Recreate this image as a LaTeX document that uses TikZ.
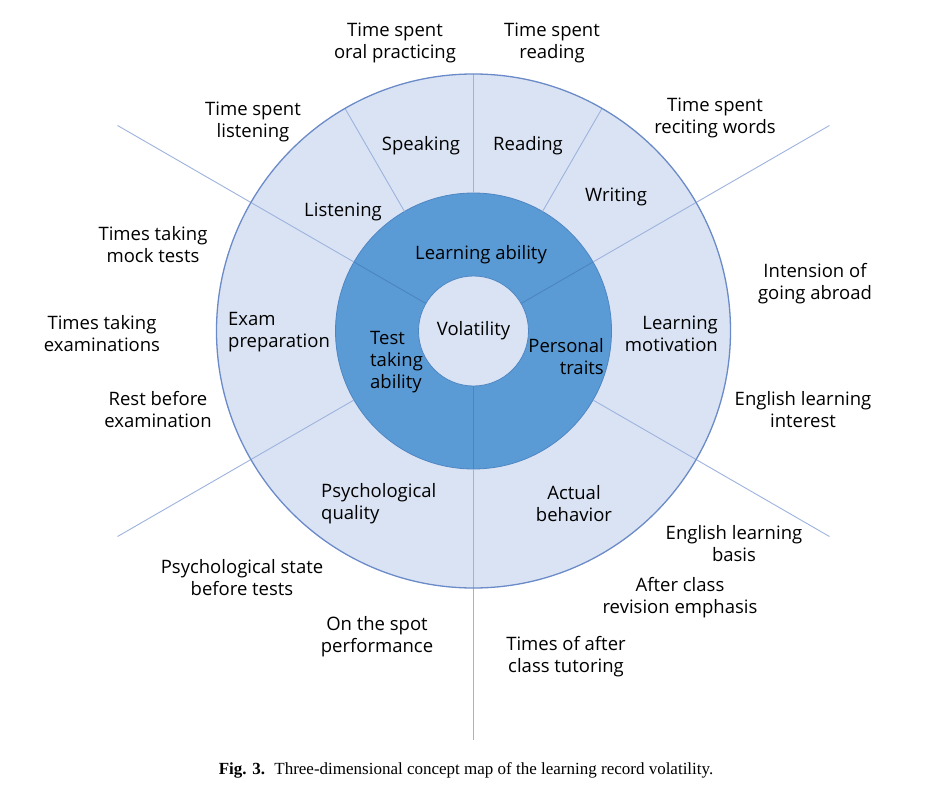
\documentclass[tikz,border=0pt]{standalone}
\usepackage{fontspec}
\setmainfont{Open Sans}
\newfontfamily\capfont{Liberation Serif}
\definecolor{lightfill}{HTML}{DAE3F3}
\definecolor{darkfill}{HTML}{5B9BD5}
\definecolor{rimcol}{HTML}{6A8AC8}
\definecolor{sepcol}{HTML}{9DB3DD}
\definecolor{darksep}{HTML}{4A84C2}
\definecolor{darkrim}{HTML}{4E86C4}
\tikzset{
  lbl/.style={align=center, font=\fontsize{18.5}{22}\selectfont, inner sep=0pt, text=black, yshift=-1.5pt},
  lblL/.style={lbl, align=left},
  lblR/.style={lbl, align=right},
  sepline/.style={draw=sepcol, line width=0.9pt},
  darkline/.style={draw=darksep, line width=0.9pt},
}
\begin{document}
\begin{tikzpicture}[x=1pt,y=-1pt]
\useasboundingbox (0,0) rectangle (931,789);
\fill[white] (0,0) rectangle (931,789);
\coordinate (C) at (473.5,331);
% outer ring
\fill[lightfill] (C) circle (257);
% middle ring
\fill[darkfill] (C) circle (138);
\draw[darkrim, line width=0.8pt] (C) circle (138);
% inner circle
\fill[lightfill] (C) circle (55);
\draw[darkrim, line width=0.8pt] (C) circle (55);
\begin{scope}[shift={(473.5,331)}]
  % separators inside the dark ring
  \draw[darkline] (-30:55) -- (-30:138);
  \draw[darkline] (-150:55) -- (-150:138);
  \draw[darkline] (90:55) -- (90:138);
  % separators in the light ring and beyond
  \draw[sepline] (-30:138) -- (-30:411);
  \draw[sepline] (-150:138) -- (-150:411);
  \draw[sepline] (150:138) -- (150:411);
  \draw[sepline] (30:138) -- (30:411);
  \draw[sepline] (90:138) -- (90:409);
  \draw[sepline] (-90:138) -- (-90:257);
  \draw[sepline] (-60:138) -- (-60:257);
  \draw[sepline] (-120:138) -- (-120:257);
\end{scope}
\draw[rimcol, line width=1.3pt] (C) circle (257);
% centre
\node[lbl] (vol) at (473.5,329) {Volatility};
% dark ring
\node[lbl] (la) at (481,253) {Learning ability};
\node[lblL, anchor=west] (tta) at (370,361) {Test\\taking\\ability};
\node[lblR, anchor=east] (pt) at (604,355) {Personal\\traits};
% light ring
\node[lbl] (spk) at (421,144) {Speaking};
\node[lbl] (rd) at (528,144) {Reading};
\node[lbl] (lis) at (343,210) {Listening};
\node[lbl] (wr) at (616,195) {Writing};
\node[lblL, anchor=west] (ep) at (228,331) {Exam\\preparation};
\node[lblR, anchor=east] (lm) at (718,332) {Learning\\motivation};
\node[lblL, anchor=west] (pq) at (321,502) {Psychological\\quality};
\node[lbl] (ab) at (574,502) {Actual\\behavior};
% outside
\node[lbl] (t1) at (395,41) {Time spent\\oral practicing};
\node[lbl] (t2) at (552,41) {Time spent\\reading};
\node[lbl] (t3) at (253,120) {Time spent\\listening};
\node[lbl] (t4) at (715,116) {Time spent\\reciting words};
\node[lbl] (t5) at (153,243) {Times taking\\mock tests};
\node[lbl] (t6) at (815,282) {Intension of\\going abroad};
\node[lbl] (t7) at (102,332) {Times taking\\examinations};
\node[lbl] (t8) at (158,408) {Rest before\\examination};
\node[lbl] (t9) at (803,408) {English learning\\interest};
\node[lbl] (t10) at (734,542) {English learning\\basis};
\node[lbl] (t11) at (242,576) {Psychological state\\before tests};
\node[lbl] (t12) at (680,596) {After class\\revision emphasis};
\node[lbl] (t13) at (377,635) {On the spot\\performance};
\node[lbl] (t14) at (566,655) {Times of after\\class tutoring};
% caption
\node[inner sep=0pt, font=\capfont\fontsize{17}{20}\selectfont] (cap) at (466,770)
  {\textbf{Fig. 3.}\hspace{0.55em}Three-dimensional concept map of the learning record volatility.};
\end{tikzpicture}
\end{document}
